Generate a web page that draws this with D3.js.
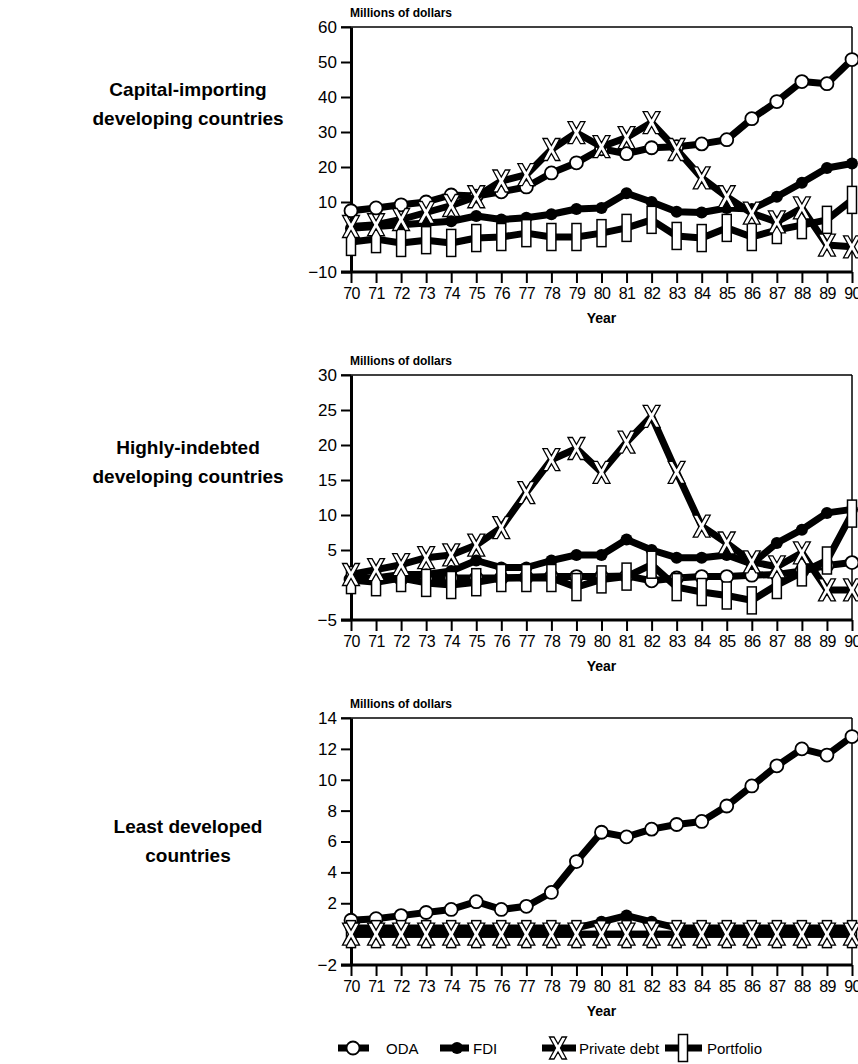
<!DOCTYPE html>
<html lang="en">
<head>
<meta charset="UTF-8" />
<title>Financial flows to developing countries, 1970-90</title>
<script src="https://cdn.jsdelivr.net/npm/d3@7"></script>
<style>
  body { margin: 0; background: #fff; }
  svg { display: block; font-family: "Liberation Sans", Arial, Helvetica, sans-serif; }
</style>
</head>
<body>
<svg id="chart" width="858" height="1064"></svg>
<script>
  // years on the x axis (19xx)
  const years = [70, 71, 72, 73, 74, 75, 76, 77, 78, 79, 80, 81, 82, 83, 84, 85, 86, 87, 88, 89, 90];
  const seriesNames = ['ODA', 'FDI', 'Private debt', 'Portfolio'];

  // Capital-importing developing countries
  const capTicks = [-10, 10, 20, 30, 40, 50, 60];
  const capODA = [7.5, 8.3, 9.2, 10, 12, 11.7, 12.9, 14.3, 18.3, 21.2, 25.2, 23.8, 25.5, 25.8, 26.6, 27.8, 33.8, 38.7, 44.4, 43.8, 50.7];
  const capFDI = [2.5, 3, 3.5, 4, 4.5, 6, 5, 5.5, 6.5, 8, 8.3, 12.5, 10, 7.2, 7, 8.3, 8, 11.5, 15.5, 19.7, 21];
  const capDebt = [3, 3.5, 5, 7, 9, 11.5, 16, 17.8, 25, 29.8, 25.8, 28.4, 32.7, 25, 16.9, 11.5, 6.8, 4.3, 8.3, -2.3, -2.8];
  const capPortfolio = [-1.4, -0.6, -1.7, -0.9, -1.7, -0.3, 0, 1.1, 0, 0, 1.1, 2.6, 4.9, 0.3, -0.3, 2.6, 0, 2, 3.4, 4.9, 10.6];

  // Highly-indebted developing countries
  const hiTicks = [-5, 5, 10, 15, 20, 25, 30];
  const hiODA = [0.8, 0.8, 0.9, 1, 1, 1, 1, 1.1, 1.2, 1.2, 1.2, 1.3, 0.6, 1, 1.2, 1.2, 1.4, 1.5, 2, 2.8, 3.2];
  const hiFDI = [1, 1, 1.5, 1.5, 2, 3.5, 2.5, 2.5, 3.5, 4.3, 4.3, 6.5, 5, 3.9, 3.9, 4.3, 3, 6, 7.9, 10.3, 10.8];
  const hiDebt = [1.5, 2.2, 2.9, 3.9, 4.3, 5.7, 8.2, 13.2, 17.9, 19.5, 16.1, 20.4, 24.1, 16.1, 8.4, 6, 3.3, 2.6, 4.6, -0.7, -0.7];
  const hiPortfolio = [0.7, 0.4, 1, 0.3, 0, 0.4, 1, 1, 1, -0.3, 0.8, 1.2, 2.9, -0.3, -1, -1.5, -2.2, 0, 1.8, 3.5, 10.2];

  // Least developed countries
  const ldcTicks = [-2, 2, 4, 6, 8, 10, 12, 14];
  const ldcODA = [0.9, 1, 1.2, 1.4, 1.6, 2.1, 1.6, 1.8, 2.7, 4.7, 6.6, 6.3, 6.8, 7.1, 7.3, 8.3, 9.6, 10.9, 12, 11.6, 12.8];
  const ldcFDI = [0.4, 0.4, 0.4, 0.4, 0.4, 0.4, 0.4, 0.4, 0.4, 0.4, 0.8, 1.2, 0.8, 0.4, 0.4, 0.4, 0.4, 0.4, 0.4, 0.4, 0.4];
  const ldcDebt = [0, 0, 0, 0, 0, 0, 0, 0, 0, 0, 0, 0, 0, 0, 0, 0, 0, 0, 0, 0, 0];
  const ldcPortfolio = [0, 0, 0, 0, 0, 0, 0, 0, 0, 0, 0, 0, 0, 0, 0, 0, 0, 0, 0, 0, 0];

  const panels = [
    { title: ['Capital-importing', 'developing countries'], titleY: 96, top: 27, bottom: 272,
      domain: [-10, 60], ticks: capTicks, data: [capODA, capFDI, capDebt, capPortfolio] },
    { title: ['Highly-indebted', 'developing countries'], titleY: 454, top: 375, bottom: 620,
      domain: [-5, 30], ticks: hiTicks, data: [hiODA, hiFDI, hiDebt, hiPortfolio] },
    { title: ['Least developed', 'countries'], titleY: 833, top: 718, bottom: 965,
      domain: [-2, 14], ticks: ldcTicks, data: [ldcODA, ldcFDI, ldcDebt, ldcPortfolio] }
  ];

  const left = 351, right = 852;
  const titleX = 188;
  const svg = d3.select('#chart');
  const x = d3.scaleLinear().domain([70, 90]).range([left, right]);

  // X-shaped marker outline
  const xShape = 'M-8.5,-11L-4,-11L0,-4L4,-11L8.5,-11L2.5,0L8.5,11L4,11L0,4L-4,11L-8.5,11L-2.5,0Z';

  function marker(g, type) {
    if (type === 0) {
      g.append('circle').attr('r', 6.5).attr('fill', '#fff').attr('stroke', '#000').attr('stroke-width', 1.8);
    } else if (type === 1) {
      g.append('circle').attr('r', 6).attr('fill', '#000');
    } else if (type === 2) {
      g.append('path').attr('d', xShape).attr('fill', '#fff').attr('stroke', '#000').attr('stroke-width', 1.3);
    } else {
      g.append('rect').attr('x', -4.5).attr('y', -13.5).attr('width', 9).attr('height', 27)
        .attr('fill', '#fff').attr('stroke', '#000').attr('stroke-width', 1.5);
    }
  }

  // draw order: ODA, FDI, Portfolio, Private debt
  const drawOrder = [0, 1, 3, 2];

  panels.forEach(p => {
    const y = d3.scaleLinear().domain(p.domain).range([p.bottom, p.top]);
    const g = svg.append('g');

    g.append('text')
      .attr('x', titleX).attr('y', p.titleY)
      .attr('text-anchor', 'middle')
      .attr('font-size', 19).attr('font-weight', 'bold')
      .selectAll('tspan').data(p.title).join('tspan')
      .attr('x', titleX).attr('dy', (d, i) => i === 0 ? 0 : 29)
      .text(d => d);

    g.append('text')
      .attr('x', left - 1).attr('y', p.top - 10)
      .attr('font-size', 12).attr('font-weight', 'bold')
      .text('Millions of dollars');

    // frame: thin top and right
    g.append('line').attr('x1', left - 10).attr('x2', right).attr('y1', p.top).attr('y2', p.top)
      .attr('stroke', '#000').attr('stroke-width', 1.5);
    g.append('line').attr('x1', right).attr('x2', right).attr('y1', p.top).attr('y2', p.bottom)
      .attr('stroke', '#000').attr('stroke-width', 1.5);

    const yAxis = g.append('g')
      .attr('transform', `translate(${left},0)`)
      .call(d3.axisLeft(y).tickValues(p.ticks).tickSize(10).tickSizeOuter(0).tickPadding(4).tickFormat(d3.format('d')));
    yAxis.select('.domain').attr('stroke-width', 3);
    yAxis.selectAll('.tick line').attr('stroke-width', 2);
    yAxis.selectAll('.tick text').attr('font-size', 17).attr('fill', '#000')
      .style('font-family', '"Liberation Sans", Arial, sans-serif');

    const xAxis = g.append('g')
      .attr('transform', `translate(0,${p.bottom})`)
      .call(d3.axisBottom(x).tickValues(years).tickSize(11).tickSizeOuter(0).tickPadding(5).tickFormat(d3.format('d')));
    xAxis.select('.domain').attr('stroke-width', 3).attr('d', `M${left - 10},0H${right}`);
    xAxis.selectAll('.tick line').attr('stroke-width', 2);
    xAxis.selectAll('.tick text').attr('font-size', 16).attr('fill', '#000')
      .attr('letter-spacing', '-0.6')
      .style('font-family', '"Liberation Sans", Arial, sans-serif');

    g.append('text')
      .attr('x', (left + right) / 2).attr('y', p.bottom + 51)
      .attr('text-anchor', 'middle')
      .attr('font-size', 14).attr('font-weight', 'bold')
      .text('Year');

    const line = d3.line().x((d, i) => x(years[i])).y(d => y(d));

    drawOrder.forEach(s => {
      const values = p.data[s];
      g.append('path')
        .attr('d', line(values))
        .attr('fill', 'none')
        .attr('stroke', '#000')
        .attr('stroke-width', 7)
        .attr('stroke-linejoin', 'round');
      g.selectAll(null).data(values).join('g')
        .attr('transform', (d, i) => `translate(${x(years[i])},${y(d)})`)
        .each(function() { marker(d3.select(this), s); });
    });
  });

  // legend
  const legendY = 1048;
  const legendItems = [
    { x1: 338, x2: 369, mx: 353, tx: 386 },
    { x1: 440, x2: 469, mx: 457, tx: 473 },
    { x1: 542, x2: 576, mx: 558, tx: 579 },
    { x1: 665, x2: 702, mx: 683, tx: 707 }
  ];
  const legend = svg.append('g');
  legendItems.forEach((it, s) => {
    legend.append('line').attr('x1', it.x1).attr('x2', it.x2).attr('y1', legendY).attr('y2', legendY)
      .attr('stroke', '#000').attr('stroke-width', 7);
    const m = legend.append('g').attr('transform', `translate(${it.mx},${legendY})`);
    marker(m, s);
    legend.append('text').attr('x', it.tx).attr('y', legendY + 5.5)
      .attr('font-size', 15).text(seriesNames[s]);
  });
</script>
</body>
</html>
